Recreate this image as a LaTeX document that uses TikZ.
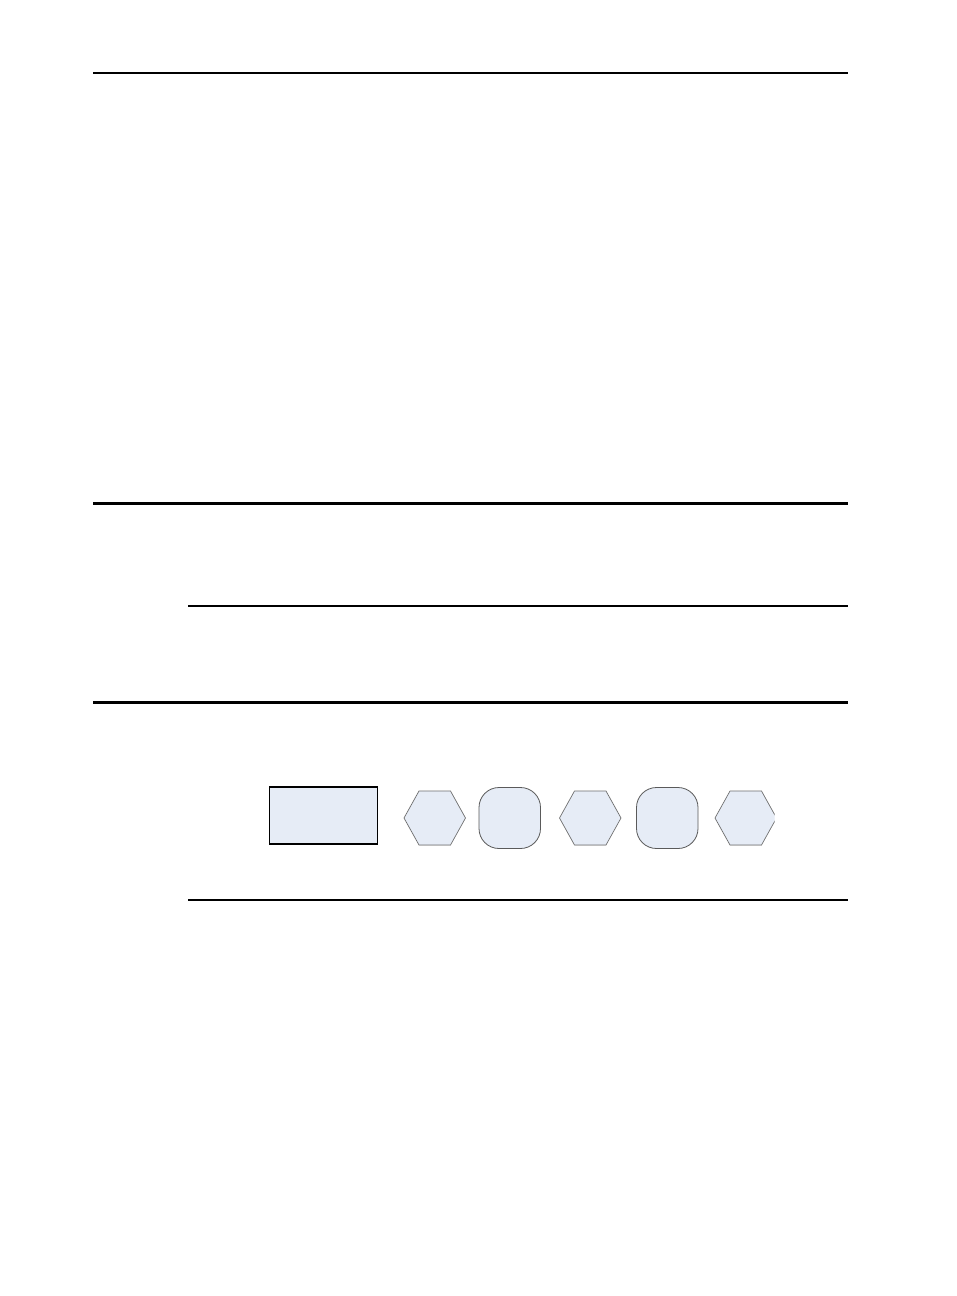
\documentclass[tikz,border=0pt]{standalone}
\begin{document}
\begin{tikzpicture}[x=1pt,y=-1pt,
  thickrule/.style={line width=2.5pt,black},
  thinrule/.style={line width=1.3pt,black},
  shapefill/.style={fill=paleblue},
  hexline/.style={shapefill,draw=hexgray,line width=0.7pt},
  roundline/.style={shapefill,draw=roundgray,line width=0.8pt,rounded corners=20pt},
  boxline/.style={shapefill,draw=black,line width=1.2pt}]
\definecolor{paleblue}{HTML}{E6ECF6}
\definecolor{hexgray}{HTML}{6E6E6E}
\definecolor{roundgray}{HTML}{5A5A5A}
\definecolor{lightedge}{HTML}{BDBDBD}
\useasboundingbox[fill=white] (0,0) rectangle (956,1296);
% rules
\draw[thickrule] (93,73) -- (848,73);
\draw[thickrule] (93,503.5) -- (848,503.5);
\draw[thinrule] (188,606) -- (848,606);
\draw[thickrule] (93,702.5) -- (848,702.5);
\draw[thinrule] (188,900) -- (848,900);
% rectangle
\draw[boxline] (269.5,787) rectangle (377.5,844);
% hexagon 1
\draw[hexline] (404,818) -- (419,791) -- (450.5,791) -- (465.5,818) -- (450.5,845) -- (419,845) -- cycle;
\draw[lightedge,line width=1pt] (419,845) -- (450.5,845);
% rounded square 1
\draw[roundline] (479,787.5) rectangle (540.5,848.5);
% hexagon 2
\draw[hexline] (559.5,818) -- (574.5,791) -- (606,791) -- (621,818) -- (606,845) -- (574.5,845) -- cycle;
\draw[lightedge,line width=1pt] (574.5,845) -- (606,845);
% rounded square 2
\draw[roundline] (636.5,787.5) rectangle (698,848.5);
% hexagon 3 (clipped on the right)
\begin{scope}
\clip (700,780) rectangle (774.5,850);
\draw[hexline] (715,818) -- (730,791) -- (761.5,791) -- (776.5,818) -- (761.5,845) -- (730,845) -- cycle;
\draw[lightedge,line width=1pt] (730,845) -- (761.5,845);
\end{scope}
\end{tikzpicture}
\end{document}
